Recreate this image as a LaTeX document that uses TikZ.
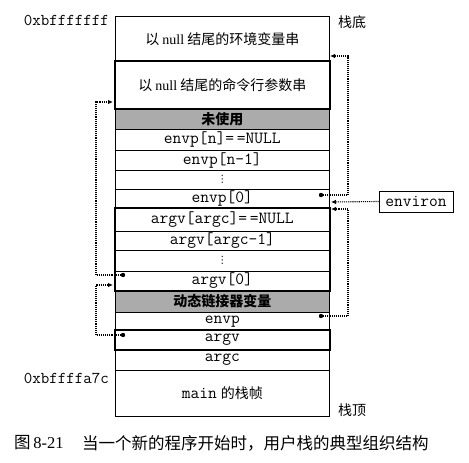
\documentclass[tikz,border=0pt]{standalone}
\usepackage{fontspec}
\setmainfont{Liberation Serif}
\newfontfamily\cjk{Noto Sans CJK SC}
\newfontfamily\dejavu{DejaVu Sans}
\usetikzlibrary{arrows.meta}
\definecolor{shade}{HTML}{ABABAB}
\begin{document}
\begin{tikzpicture}[x=1pt,y=-1pt,
  cell/.style={draw, line width=0.6pt, minimum width=214pt, inner sep=0pt, anchor=north west},
  graycell/.style={cell, fill=shade},
  mono/.style={font=\fontsize{17}{17}\selectfont\ttfamily},
  addr/.style={font=\fontsize{16.5}{17}\selectfont\ttfamily},
  zh/.style={font=\fontsize{14}{16}\selectfont},
  vd/.style={font=\fontsize{10}{10}\selectfont\dejavu},
  thickbox/.style={draw, line width=2pt},
  ptr/.style={densely dotted, line width=1.1pt, -{Latex[length=5pt,width=4.5pt]}},
  seg/.style={densely dotted, line width=1.1pt}]
\useasboundingbox (0,0) rectangle (469,463);
% stack cells
\node[cell, minimum height=45pt, zh] (r1) at (115,16) {\raisebox{-3pt}{\cjk 以\ {\fontsize{14}{16}\selectfont\rmfamily null}\ 结尾的环境变量串}};
\node[cell, minimum height=47pt, zh] (r2) at (115,61) {\cjk 以\ {\fontsize{14}{16}\selectfont\rmfamily null}\ 结尾的命令行参数串};
\node[graycell, minimum height=21pt, zh] (r3) at (115,108) {\cjk\bfseries 未使用};
\node[cell, minimum height=21pt, mono] (r4) at (115,129) {envp[n]=\,=NULL};
\node[cell, minimum height=20pt, mono] (r5) at (115,150) {envp[n-1]};
\node[cell, minimum height=19pt, vd] (r6) at (115,170) {⋮};
\node[cell, minimum height=19pt, mono] (r7) at (115,189) {envp[0]};
\node[cell, minimum height=23pt, mono] (r8) at (115,208) {argv[argc]=\,=NULL};
\node[cell, minimum height=19pt, mono] (r9) at (115,231) {argv[argc-1]};
\node[cell, minimum height=21pt, vd] (r10) at (115,250) {⋮};
\node[cell, minimum height=19pt, mono] (r11) at (115,271) {argv[0]};
\node[graycell, minimum height=22pt, zh] (r12) at (115,290) {\cjk\bfseries 动态链接器变量};
\node[cell, minimum height=18pt, mono] (r13) at (115,312) {envp};
\node[cell, minimum height=19pt, mono] (r14) at (115,330) {argv};
\node[cell, minimum height=21pt, mono] (r15) at (115,349) {argc};
\node[cell, minimum height=46pt] (r16) at (115,370) {{\fontsize{17}{17}\selectfont\ttfamily main}\hspace{4pt}{\fontsize{14}{16}\selectfont\cjk 的栈帧}};
% thick outlines
\draw[thickbox] (r2.north west) rectangle (r2.south east);
\draw[thickbox] (r8.north west) rectangle (r11.south east);
\draw[thickbox] (r14.north west) rectangle (r14.south east);
% labels
\node[addr, anchor=east, inner sep=0pt] (top) at (109,20) {0xbfffffff};
\node[addr, anchor=east, inner sep=0pt] (mainaddr) at (109,378) {0xbffffa7c};
\node[zh, anchor=west, inner sep=0pt] (bottom) at (338,22) {\cjk 栈底};
\node[zh, anchor=west, inner sep=0pt] (stacktop) at (338,410) {\cjk 栈顶};
\node[draw, line width=0.6pt, minimum width=74pt, minimum height=21pt, inner sep=0pt, mono] (environ) at (416,201.5) {environ};
% pointer sources and targets
\coordinate (d1) at (321,195);
\coordinate (t1) at (330,56);
\coordinate (t2) at (331,202);
\coordinate (d3) at (321,316);
\coordinate (t3) at (331,209);
\coordinate (d4) at (123,275);
\coordinate (t4) at (113,102);
\coordinate (d5) at (123,335);
\coordinate (t5) at (113,285);
\foreach \d in {d1,d3,d4,d5} \fill (\d) circle (2.2pt);
\draw[seg] (d1) -- (348,195) coordinate (c1);
\draw[ptr] (c1) |- (t1);
\draw[ptr] (environ.west) -- (t2);
\draw[seg] (d3) -- (348,316) coordinate (c3);
\draw[ptr] (c3) |- (t3);
\draw[seg] (d4) -- (96,275) coordinate (c4);
\draw[ptr] (c4) |- (t4);
\draw[seg] (d5) -- (96,335) coordinate (c5);
\draw[ptr] (c5) |- (t5);
% caption
\node[anchor=west, inner sep=0pt, font=\fontsize{16.5}{18}\selectfont] (fig) at (14,443) {\cjk 图\,{\rmfamily 8-21}};
\node[anchor=west, inner sep=0pt, font=\fontsize{16.5}{18}\selectfont] (cap) at (82,443) {\cjk 当一个新的程序开始时，用户栈的典型组织结构};
\end{tikzpicture}
\end{document}
